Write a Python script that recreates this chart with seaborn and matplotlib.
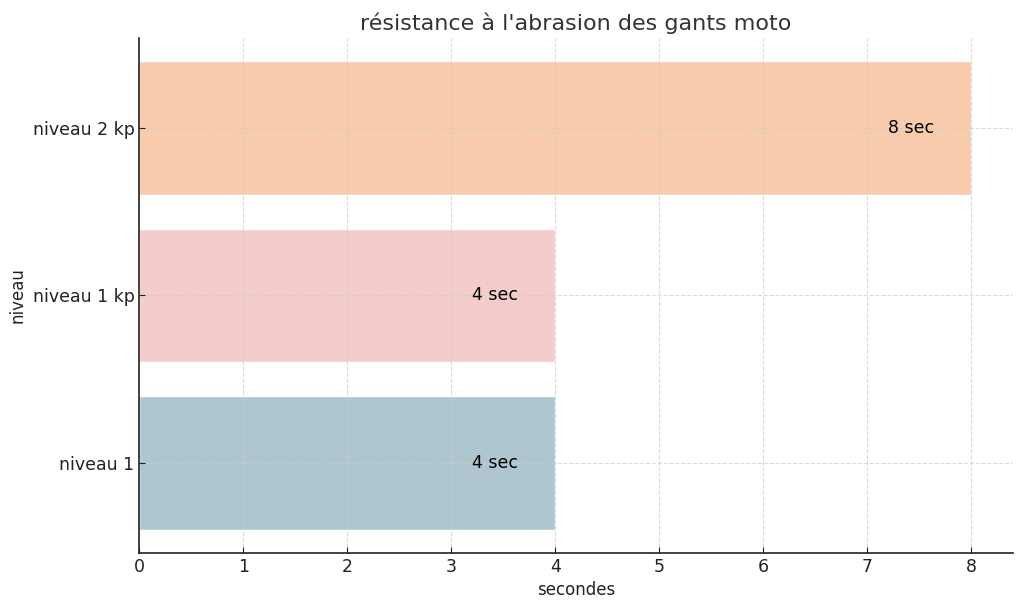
import pandas as pd
import matplotlib
matplotlib.use("Agg")
import matplotlib.pyplot as plt
import seaborn as sns

# Data (bottom to top)
niveaux = ["niveau 1", "niveau 1 kp", "niveau 2 kp"]
secondes = [4, 4, 8]
couleurs = ["#AEC6CF", "#F4CCCC", "#F8CBAD"]

df = pd.DataFrame({"niveau": niveaux, "secondes": secondes})
ordre = niveaux[::-1]  # seaborn puts the first category on top

sns.set_style("white")
plt.rcParams['font.family'] = ['DejaVu Sans']

fig, ax = plt.subplots(figsize=(10.24, 6.11), dpi=100)
sns.barplot(data=df, y="niveau", x="secondes", hue="niveau", palette=couleurs,
            hue_order=niveaux, order=ordre, legend=False, width=0.8,
            saturation=1, ax=ax)
ax.set_ylim(2.54, -0.54)
ax.set_xlim(0, 8.4)

# value labels
for nom, v in zip(niveaux, secondes):
    ax.text(v - 0.8, ordre.index(nom), f"{v} sec", va="center", ha="left",
            fontsize=12.5, color="black")

ax.set_title("résistance à l'abrasion des gants moto", fontsize=16, color="#333333")
ax.set_xlabel("secondes", fontsize=12, color="#222222")
ax.set_ylabel("niveau", fontsize=12, color="#222222")
ax.tick_params(axis="both", labelsize=12.5, colors="#222222", length=4,
               direction="in", left=True, bottom=True)
ax.set_axisbelow(False)
ax.grid(True, linestyle="--", color="#cccccc", alpha=0.7, linewidth=0.8)
sns.despine(ax=ax)
for s in ["left", "bottom"]:
    ax.spines[s].set_color("#222222")
    ax.spines[s].set_zorder(5)
    ax.spines[s].set_linewidth(1.2)

plt.subplots_adjust(left=0.136, right=0.989, top=0.938, bottom=0.095)
plt.savefig("out.png", dpi=100)
